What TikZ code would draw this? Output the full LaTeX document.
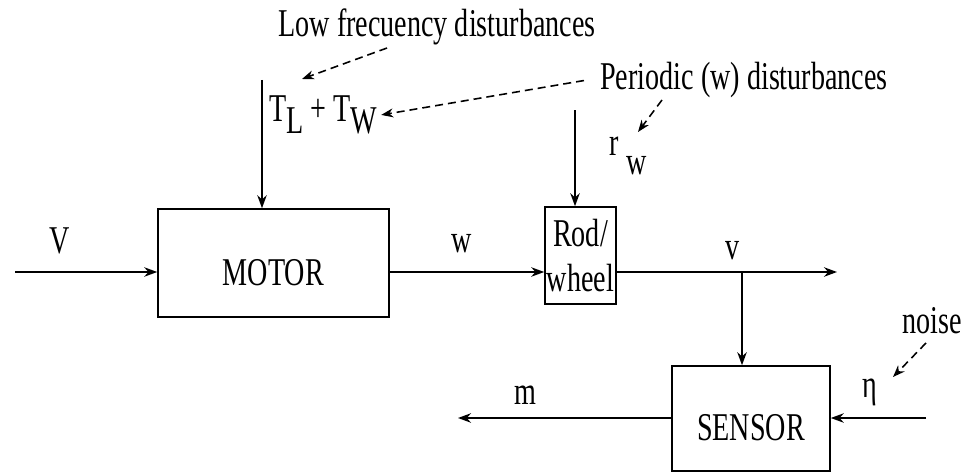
\documentclass[tikz,border=0pt]{standalone}
\usepackage{fontspec}
\setmainfont{Liberation Serif}
\usepackage{graphicx}
\usetikzlibrary{arrows.meta,positioning,calc}
\newcommand{\tallt}[1]{\scalebox{1}[1.4]{#1}}
\tikzset{
  blk/.style={draw,line width=0.9pt,inner sep=1pt,font=\fontsize{16}{26}\selectfont},
  lbl/.style={inner sep=2pt,anchor=base,font=\fontsize{16}{19}\selectfont},
  sig/.style={-{Stealth[length=2.6mm,width=1.9mm]},line width=0.9pt},
  dsig/.style={-{Stealth[length=2.4mm,width=1.8mm]},line width=0.9pt,dash pattern=on 1.6mm off 1mm}
}

\begin{document}
\begin{tikzpicture}
\useasboundingbox (0,0) rectangle (19.6,9.46);
% blocks
\node[blk,minimum width=4.62cm,minimum height=2.16cm,text height=0.95cm,text depth=0.07cm] (M) at (5.47,4.2) {\tallt{MOTOR}};
\node[blk,minimum width=1.42cm,minimum height=1.94cm,align=center] (R) at (11.61,4.35) {\tallt{Rod/}\\\tallt{wheel}};
\node[blk,minimum width=3.16cm,minimum height=2.1cm,text height=0.95cm,text depth=0.07cm] (S) at (15.02,1.09) {\tallt{SENSOR}\hspace{0.6cm}};
% signal lines
\coordinate (vin) at (0.3,4.02);
\coordinate (vout) at (16.74,4.02);
\coordinate (tap) at (14.84,4.02);
\coordinate (nin) at (18.52,1.1);
\coordinate (mout) at (9.16,1.1);
\coordinate (tin) at (5.24,7.86);
\coordinate (rin) at (11.5,7.26);
\draw[sig] (vin) -- (vin -| M.west);
\draw[sig] (vin -| M.east) -- (vin -| R.west);
\draw[sig] (vin -| R.east) -- (vout);
\draw[sig] (tap) -- (tap |- S.north);
\draw[sig] (nin) -- (nin -| S.east);
\draw[sig] (nin -| S.west) -- (mout);
\draw[sig] (tin) -- (tin |- M.north);
\draw[sig] (rin) -- (rin |- R.north);
% labels
\node[lbl] (V) at (1.2,4.4) {\tallt{V}};
\node[lbl] (w) at (9.24,4.42) {\tallt{w}};
\node[lbl] (v) at (14.66,4.28) {\tallt{v}};
\node[lbl] (m) at (10.5,1.38) {\tallt{m}};
\node[lbl] (eta) at (17.4,1.52) {\tallt{η}};
\node[lbl] (noise) at (18.64,2.8) {\tallt{noise}};
\node[lbl,anchor=base west] (T) at (5.31,7.02) {\tallt{T\raisebox{-0.28em}{L} + T\raisebox{-0.28em}{W}}};
\node[lbl,anchor=base west] (rw) at (12.12,6.36) {\tallt{r\hspace{0.25em}\raisebox{-0.5em}{w}}};
\node[lbl] (low) at (8.74,8.72) {\tallt{Low frecuency disturbances}};
\node[lbl] (per) at (14.88,7.66) {\tallt{Periodic (w) disturbances}};
% disturbance pointers
\coordinate (lfs) at (7.74,8.5);
\coordinate (lfe) at (6.04,7.88);
\coordinate (pws) at (13.24,7.46);
\coordinate (pwe) at (12.76,6.82);
\coordinate (nzs) at (18.52,2.6);
\coordinate (nze) at (17.86,1.92);
\draw[dsig] (lfs) -- (lfe);
\draw[dsig] ([xshift=-0.25cm]per.west) -- (T.east);
\draw[dsig] (pws) -- (pwe);
\draw[dsig] (nzs) -- (nze);
\end{tikzpicture}
\end{document}
